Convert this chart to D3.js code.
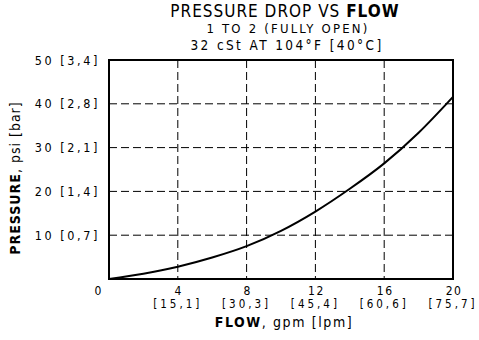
<!DOCTYPE html>
<html><head><meta charset="utf-8">
<script src="https://cdn.jsdelivr.net/npm/d3@7"></script>
<style>
body{margin:0;background:#fff;}
svg text{font-family:"DejaVu Sans Condensed","Liberation Sans Narrow",sans-serif;fill:#000;}
</style></head>
<body><svg id="c" width="479" height="340"></svg>
<script>
const flowGpm = [0,2,4,6,8,10,12,14,16,18,20];
const pressurePsi = [0,1.2,2.8,4.9,7.5,11,15.4,20.6,26.4,33.4,41.6];
const xTicks = [4,8,12,16,20];
const xTickLpm = ["[15,1]","[30,3]","[45,4]","[60,6]","[75,7]"];
const yTicks = [10,20,30,40,50];
const yTickBar = ["[0,7]","[1,4]","[2,1]","[2,8]","[3,4]"];
const titleMain = ["PRESSURE DROP VS ","FLOW"];
const subtitleLines = ["1 TO 2 (FULLY OPEN)","32 cSt AT 104°F [40°C]"];

const svg = d3.select("#c");
const L=109, R=453, T=60, B=279;
const x = d3.scaleLinear().domain([0,20]).range([L,R]);
const y = d3.scaleLinear().domain([0,50]).range([B,T]);

// grid
svg.append("g").selectAll("line").data(xTicks.slice(0,-1)).join("line")
  .attr("x1",d=>x(d)).attr("x2",d=>x(d)).attr("y1",T).attr("y2",B)
  .attr("stroke","#000").attr("stroke-width",1).attr("stroke-dasharray","8,4");
svg.append("g").selectAll("line").data(yTicks.slice(0,-1)).join("line")
  .attr("y1",d=>y(d)).attr("y2",d=>y(d)).attr("x1",L).attr("x2",R)
  .attr("stroke","#000").attr("stroke-width",1).attr("stroke-dasharray","8,4");

// curve
const line = d3.line().x((d,i)=>x(flowGpm[i])).y(d=>y(d)).curve(d3.curveMonotoneX);
svg.append("path").attr("d",line(pressurePsi)).attr("fill","none")
  .attr("stroke","#000").attr("stroke-width",2);

// border
svg.append("rect").attr("x",L).attr("y",T).attr("width",R-L).attr("height",B-T)
  .attr("fill","none").attr("stroke","#000").attr("stroke-width",2);

// y tick labels
svg.append("g").selectAll("text").data(yTicks).join("text")
  .attr("x",100).attr("y",d=>y(d)+4.5).attr("text-anchor","end")
  .attr("font-size",12.5).attr("letter-spacing",2.6)
  .text((d,i)=>d+" "+yTickBar[i]);

// zero label
svg.append("text").attr("x",98).attr("y",295).attr("text-anchor","middle")
  .attr("font-size",12).text("0");

// x tick labels
svg.append("g").selectAll("text").data(xTicks).join("text")
  .attr("x",d=>x(d)+1).attr("y",295).attr("text-anchor","middle")
  .attr("font-size",12).attr("letter-spacing",1.5).text(d=>d);
svg.append("g").selectAll("text").data(xTicks).join("text")
  .attr("x",d=>x(d)).attr("y",308).attr("text-anchor","middle")
  .attr("font-size",11.5).attr("letter-spacing",3).text((d,i)=>xTickLpm[i]);

// x title
const xt = svg.append("text").attr("x",284).attr("y",327).attr("text-anchor","middle").attr("font-size",14).attr("letter-spacing",1.6);
xt.append("tspan").attr("font-weight","bold").text("FLOW");
xt.append("tspan").text(", gpm [lpm]");

// y title
const yt = svg.append("text").attr("transform","translate(20,178) rotate(-90)").attr("text-anchor","middle").attr("font-size",14).attr("letter-spacing",1.0);
yt.append("tspan").attr("font-weight","bold").text("PRESSURE");
yt.append("tspan").text(", psi [bar]");

// titles
const tt = svg.append("text").attr("x",285).attr("y",17).attr("text-anchor","middle")
  .attr("font-size",17).attr("letter-spacing",1.0);
tt.append("tspan").text(titleMain[0]);
tt.append("tspan").attr("font-weight","bold").text(titleMain[1]);
svg.append("text").attr("x",288).attr("y",33).attr("text-anchor","middle")
  .attr("font-size",13).attr("letter-spacing",2.2).text(subtitleLines[0]);
svg.append("text").attr("x",287).attr("y",50).attr("text-anchor","middle")
  .attr("font-size",13.5).attr("letter-spacing",2.4).text(subtitleLines[1]);
</script></body></html>
